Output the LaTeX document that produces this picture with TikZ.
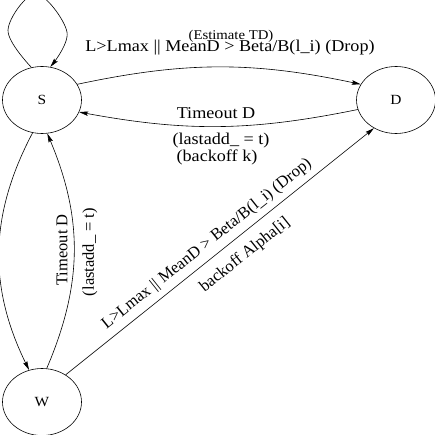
\documentclass[tikz,border=0pt]{standalone}
\usepackage{fontspec}
\setmainfont{Liberation Serif}
\newfontfamily\widefont[FakeStretch=1.1]{Liberation Serif}
\usetikzlibrary{arrows.meta,shapes.geometric}
\begin{document}
\begin{tikzpicture}[x=1pt,y=1pt,
  state/.style={ellipse, draw, line width=0.6pt, minimum width=79pt, minimum height=67pt, inner sep=0pt, font=\widefont\fontsize{14}{16}\selectfont},
  arr/.style={line width=0.6pt, -{Stealth[length=9pt,width=4.5pt,inset=1.5pt]}},
  lbl/.style={inner sep=0pt, font=\fontsize{16.5}{18}\selectfont},
  hlbl/.style={inner sep=0pt, font=\widefont\fontsize{16.5}{18}\selectfont},
  smalllbl/.style={inner sep=0pt, font=\widefont\fontsize{13.4}{15}\selectfont}]
\useasboundingbox (0,0) rectangle (434,-435);
% states
\node[state] (S) at (42,-100) {S};
\node[state] (D) at (396,-100) {D};
\node[state] (W) at (42,-402) {W};
% self loop on S
\draw[arr] plot[smooth, tension=0.6] coordinates {(S.108) (8,-30) (36,6) (67,-32) (S.76)};
% S -> D
\draw[arr] (S.24) to[bend left=12] (D.156);
% D -> S
\draw[arr] (D.194) to[bend left=11] (S.342);
% S -> W
\draw[arr] (S.254) to[bend right=27] (W.112);
% W -> S
\draw[arr] (W.82) to[bend right=23] (S.279);
% W -> D
\draw[arr] (W.49) -- (D.232);
% labels
\node[smalllbl] (l1) at (231,-36) {(Estimate TD)};
\node[hlbl] (l2) at (230,-48) {L>Lmax || MeanD > Beta/B(l\_i) (Drop)};
\node[hlbl] (l3) at (216,-113) {Timeout D};
\node[hlbl] (l4) at (221,-141) {(lastadd\_ = t)};
\node[hlbl] (l5) at (217,-157) {(backoff k)};
\node[lbl] (l6) at (62,-250) {\rotatebox{90}{Timeout D}};
\node[lbl] (l7) at (90,-252) {\rotatebox{90}{(lastadd\_ = t)}};
\node[lbl] (l8) at (207,-244) {\rotatebox{38.6}{L>Lmax || MeanD > Beta/B(l\_i) (Drop)}};
\node[lbl] (l9) at (245,-255) {\rotatebox{38.6}{backoff Alpha[i]}};
\end{tikzpicture}
\end{document}
